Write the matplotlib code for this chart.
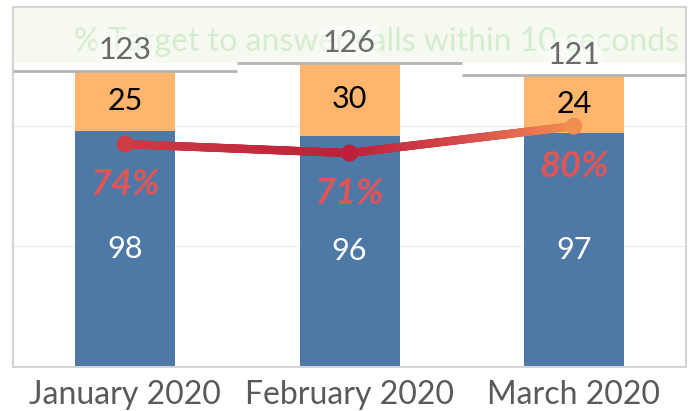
import matplotlib
matplotlib.use("Agg")
import matplotlib.pyplot as plt
import numpy as np
from matplotlib.collections import LineCollection
from matplotlib.colors import LinearSegmentedColormap
from matplotlib.patches import Rectangle

plt.rcParams['font.family'] = ['Lato', 'DejaVu Sans']

months = ['January 2020', 'February 2020', 'March 2020']
answered = [98, 96, 97]        # blue segment
missed = [25, 30, 24]          # orange segment
totals = [123, 126, 121]
pct = [74, 71, 80]             # % answered within 10 seconds
band_text = '% Target to answer calls within 10 seconds'

W, H = 691, 411
fig = plt.figure(figsize=(W / 100, H / 100), dpi=100)
left, right, bottom, top = 13, 686, 367, 7
ax = fig.add_axes([left / W, 1 - bottom / H, (right - left) / W, (bottom - top) / H])

x = np.arange(len(months))
ax.set_xlim(-0.5, len(months) - 0.5)
ax.set_ylim(0, (bottom - top) / 2.41)

# header band with faint target text (axes coords)
band_lo = (bottom - 63) / (bottom - top)
ax.add_patch(Rectangle((0, band_lo), 1, 1 - band_lo, transform=ax.transAxes,
                       facecolor='#f5f9ef', edgecolor='none', zorder=0))
ax.text((376 - left) / (right - left), (bottom - 42) / (bottom - top), band_text,
        transform=ax.transAxes, ha='center', va='center',
        fontsize=23, color='#d6ecd0', zorder=1)

for yv in (50, 100):
    ax.axhline(yv, color='#ededed', lw=1, zorder=0)

bw = 100 / ((right - left) / 3)
ax.bar(x, answered, width=bw, color='#4e79a7', zorder=2)
ax.bar(x, missed, width=bw, bottom=answered, color='#ffb56b', zorder=2)

for i in range(len(months)):
    ax.text(x[i], answered[i] / 2, str(answered[i]), ha='center', va='center',
            fontsize=22, color='white', zorder=5)
    ax.text(x[i], answered[i] + missed[i] / 2, str(missed[i]), ha='center',
            va='center', fontsize=22, color='black', zorder=5)
    ax.hlines(totals[i], x[i] - 0.5, x[i] + 0.5, color='#b4b4b4', lw=2, zorder=3)
    ax.annotate(str(totals[i]), (x[i], totals[i]), xytext=(0, 15),
                textcoords='offset points', ha='center', va='center',
                fontsize=22, color='#6b6b6b', zorder=5,
                bbox=dict(facecolor='white', alpha=0.45, edgecolor='none', pad=2))

# percent line on hidden second axis
ax2 = ax.twinx()
ax2.set_ylim(-0.3, 119.7)
ax2.axis('off')
cmap = LinearSegmentedColormap.from_list('rg', ['#bd2039', '#d5484a', '#f28e52'])
xs = np.linspace(x[0], x[-1], 400)
ys = np.interp(xs, x, pct)
pts = np.array([xs, ys]).T.reshape(-1, 1, 2)
segs = np.concatenate([pts[:-1], pts[1:]], axis=1)
lc = LineCollection(segs, cmap=cmap, norm=plt.Normalize(71, 80), linewidths=6,
                    capstyle='round', zorder=4)
lc.set_array(ys[:-1])
ax2.add_collection(lc)
ax2.scatter(x, pct, s=150, c=pct, cmap=cmap, norm=plt.Normalize(71, 80), zorder=5,
            linewidths=0)
for i in range(len(months)):
    ax2.annotate(f'{pct[i]}%', (x[i], pct[i]), xytext=(0, -29),
                 textcoords='offset points', ha='center', va='center',
                 fontsize=26, fontweight='bold', fontstyle='italic',
                 color='#e05556', zorder=6)

ax.set_xticks(x)
ax.set_xticklabels(months, fontsize=23, color='#5a5a5a')
ax.tick_params(axis='x', length=0, pad=9)
ax.set_yticks([])
for s in ax.spines.values():
    s.set_color('#d4d4d4')
    s.set_linewidth(1.5)

fig.savefig('out.png', dpi=100)
